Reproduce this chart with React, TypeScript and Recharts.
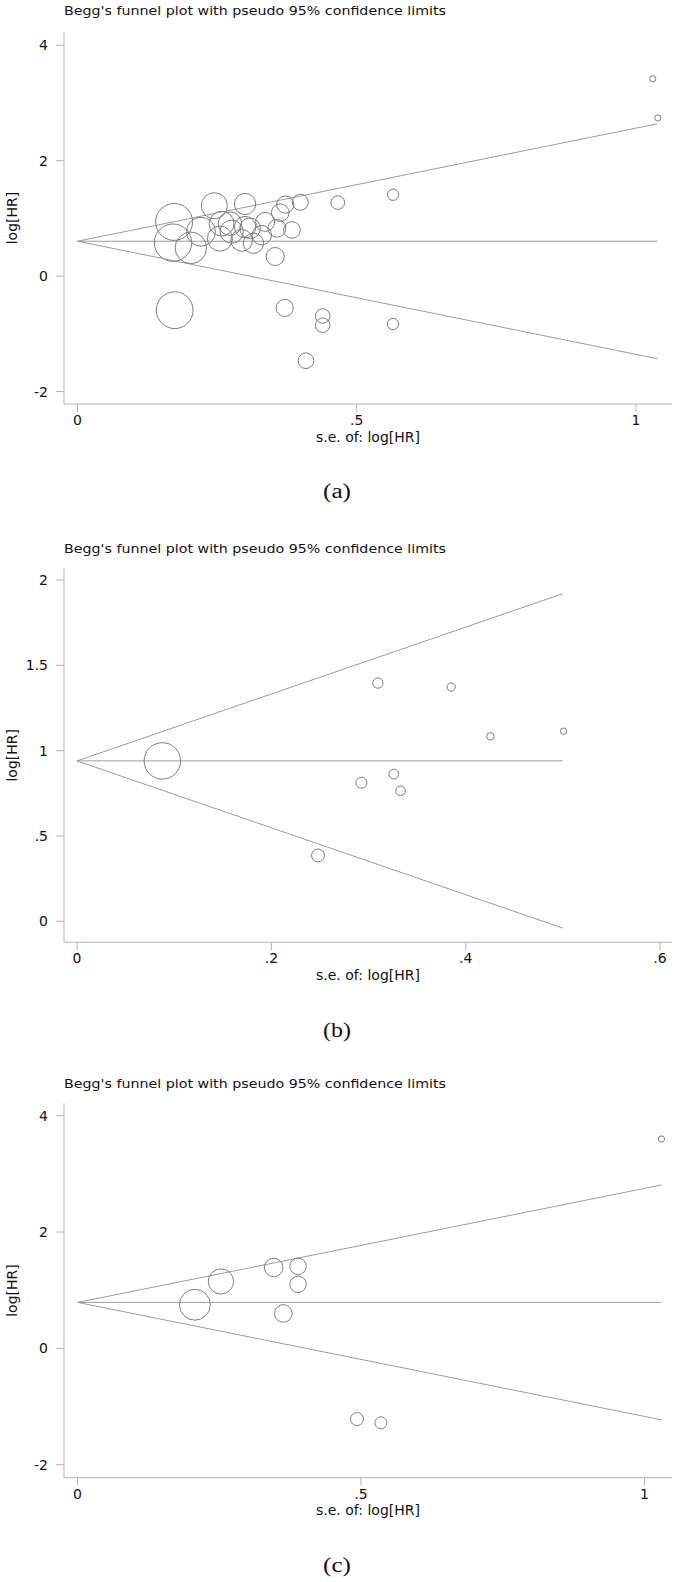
import React from 'react';
import { ScatterChart, Scatter, XAxis, YAxis, ReferenceLine } from 'recharts';

// ---------- Panel (a) ----------
const seA = [0.173, 0.171, 0.203, 0.174, 0.245, 0.300, 0.221, 0.258, 0.255, 0.273, 0.276, 0.294, 0.309, 0.315, 0.336, 0.357, 0.354, 0.363, 0.372, 0.399, 0.384, 0.330, 0.300, 0.466, 0.565, 0.371, 0.439, 0.439, 0.565, 0.409, 1.030, 1.039];
const hrA = [0.94, 0.58, 0.49, -0.59, 1.22, 1.25, 0.77, 0.91, 0.65, 0.91, 0.77, 0.62, 0.83, 0.57, 0.94, 0.83, 0.34, 1.10, 1.24, 1.28, 0.80, 0.71, 0.85, 1.275, 1.41, -0.55, -0.69, -0.85, -0.83, -1.465, 3.42, 2.74];
const pooledA = 0.605;
const seMaxA = 1.038;
const xTicksA = [0, 0.5, 1];
const yTicksA = [-2, 0, 2, 4];

// ---------- Panel (b) ----------
const seB = [0.0878, 0.3096, 0.385, 0.4254, 0.5007, 0.2927, 0.326, 0.333, 0.248];
const hrB = [0.94, 1.396, 1.373, 1.084, 1.114, 0.812, 0.863, 0.765, 0.386];
const pooledB = 0.94;
const seMaxB = 0.4998;
const xTicksB = [0, 0.2, 0.4, 0.6];
const yTicksB = [0, 0.5, 1, 1.5, 2];

// ---------- Panel (c) ----------
const seC = [1.03, 0.346, 0.389, 0.389, 0.253, 0.207, 0.363, 0.493, 0.535];
const hrC = [3.6, 1.39, 1.41, 1.10, 1.15, 0.75, 0.60, -1.215, -1.28];
const pooledC = 0.79;
const seMaxC = 1.03;
const xTicksC = [0, 0.5, 1];
const yTicksC = [-2, 0, 2, 4];

const titleText = "Begg's funnel plot with pseudo 95% confidence limits";
const xLabelText = 's.e. of: log[HR]';
const yLabelText = 'log[HR]';
const captions = ['(a)', '(b)', '(c)'];

const FONT = "'DejaVu Sans', Arial, sans-serif";
const TEXT_COLOR = '#111';
const AXIS_COLOR = '#b4b4b4';
const LINE_COLOR = '#9c9c9c';
const CIRCLE_COLOR = '#7c7c7c';

const fmt = (v: number) => {
  if (v === 0) return '0';
  const s = String(v);
  return s.replace(/^0\./, '.').replace(/^-0\./, '-.');
};

type PanelProps = {
  top: number;
  plotTop: number;
  plotBottom: number;
  se: number[];
  hr: number[];
  pooled: number;
  seMax: number;
  xDomain: [number, number];
  yDomain: [number, number];
  xTicks: number[];
  yTicks: number[];
  k: number;
};

const X_AXIS_H = 45;
const BOTTOM_PAD = 12;

function Panel(p: PanelProps) {
  const data = p.se.map((s, i) => ({ se: s, hr: p.hr[i] }));
  const height = p.plotBottom - p.top + X_AXIS_H + BOTTOM_PAD;
  const shape = (props: any) => {
    const s = props.payload ? props.payload.se : 1;
    return (
      <circle cx={props.cx} cy={props.cy} r={p.k / s} fill="none" stroke={CIRCLE_COLOR} strokeWidth={1} />
    );
  };
  return (
    <div style={{ position: 'absolute', left: 0, top: p.top, width: 675, height }}>
      <ScatterChart
        width={675}
        height={height}
        margin={{ top: p.plotTop - p.top, right: 3, bottom: BOTTOM_PAD, left: 0 }}
      >
        <XAxis
          type="number"
          dataKey="se"
          domain={p.xDomain}
          allowDataOverflow
          ticks={p.xTicks}
          tickFormatter={fmt}
          height={X_AXIS_H}
          tickSize={8}
          tickMargin={3}
          axisLine={{ stroke: AXIS_COLOR }}
          tickLine={{ stroke: AXIS_COLOR }}
          tick={{ fill: TEXT_COLOR, fontSize: 14, fontFamily: FONT }}
        />
        <YAxis
          type="number"
          dataKey="hr"
          domain={p.yDomain}
          allowDataOverflow
          ticks={p.yTicks}
          tickFormatter={fmt}
          width={64}
          tickSize={8}
          tickMargin={8}
          axisLine={{ stroke: AXIS_COLOR }}
          tickLine={{ stroke: AXIS_COLOR }}
          tick={{ fill: TEXT_COLOR, fontSize: 14, fontFamily: FONT }}
        />
        <ReferenceLine
          segment={[{ x: 0, y: p.pooled }, { x: p.seMax, y: p.pooled + 1.96 * p.seMax }]}
          stroke={LINE_COLOR}
          strokeWidth={1}
        />
        <ReferenceLine
          segment={[{ x: 0, y: p.pooled }, { x: p.seMax, y: p.pooled - 1.96 * p.seMax }]}
          stroke={LINE_COLOR}
          strokeWidth={1}
        />
        <ReferenceLine
          segment={[{ x: 0, y: p.pooled }, { x: p.seMax, y: p.pooled }]}
          stroke={LINE_COLOR}
          strokeWidth={1}
        />
        <Scatter data={data} shape={shape} isAnimationActive={false} />
      </ScatterChart>
    </div>
  );
}

const panels = [
  { top: 0, plotTop: 32, plotBottom: 404, titleY: 15, capY: 498 },
  { top: 530, plotTop: 568.3, plotBottom: 942.3, titleY: 552.5, capY: 1036.7 },
  { top: 1065, plotTop: 1103.3, plotBottom: 1477.7, titleY: 1087.8, capY: 1571.7 },
];

export default function App() {
  return (
    <div style={{ position: 'absolute', left: 0, top: 0, width: 675, height: 1582, background: '#fff' }}>
      <Panel
        top={panels[0].top}
        plotTop={panels[0].plotTop}
        plotBottom={panels[0].plotBottom}
        se={seA}
        hr={hrA}
        pooled={pooledA}
        seMax={seMaxA}
        xDomain={[-0.0242, 1.0645]}
        yDomain={[-2.215, 4.23]}
        xTicks={xTicksA}
        yTicks={yTicksA}
        k={3.2}
      />
      <Panel
        top={panels[1].top}
        plotTop={panels[1].plotTop}
        plotBottom={panels[1].plotBottom}
        se={seB}
        hr={hrB}
        pooled={pooledB}
        seMax={seMaxB}
        xDomain={[-0.0134, 0.6123]}
        yDomain={[-0.123, 2.0686]}
        xTicks={xTicksB}
        yTicks={yTicksB}
        k={1.6}
      />
      <Panel
        top={panels[2].top}
        plotTop={panels[2].plotTop}
        plotBottom={panels[2].plotBottom}
        se={seC}
        hr={hrC}
        pooled={pooledC}
        seMax={seMaxC}
        xDomain={[-0.0238, 1.0485]}
        yDomain={[-2.2235, 4.213]}
        xTicks={xTicksC}
        yTicks={yTicksC}
        k={3.2}
      />
      <svg
        width={675}
        height={1582}
        style={{ position: 'absolute', left: 0, top: 0, pointerEvents: 'none' }}
      >
        {panels.map((pn, i) => (
          <g key={i}>
            <text
              x={64}
              y={pn.titleY}
              fontFamily={FONT}
              fontSize={12.8}
              fill={TEXT_COLOR}
              textLength={382}
              lengthAdjust="spacingAndGlyphs"
            >
              {titleText}
            </text>
            <text
              x={368}
              y={pn.plotBottom + 37.5}
              fontFamily={FONT}
              fontSize={14}
              fill={TEXT_COLOR}
              textAnchor="middle"
            >
              {xLabelText}
            </text>
            <text
              x={17}
              y={(pn.plotTop + pn.plotBottom) / 2}
              fontFamily={FONT}
              fontSize={14}
              fill={TEXT_COLOR}
              textAnchor="middle"
              transform={`rotate(-90 17 ${(pn.plotTop + pn.plotBottom) / 2})`}
            >
              {yLabelText}
            </text>
            <text
              x={337}
              y={pn.capY}
              fontFamily="'Liberation Serif', 'Times New Roman', serif"
              fontSize={20}
              fill={TEXT_COLOR}
              textAnchor="middle"
              textLength={28}
              lengthAdjust="spacingAndGlyphs"
            >
              {captions[i]}
            </text>
          </g>
        ))}
      </svg>
    </div>
  );
}
